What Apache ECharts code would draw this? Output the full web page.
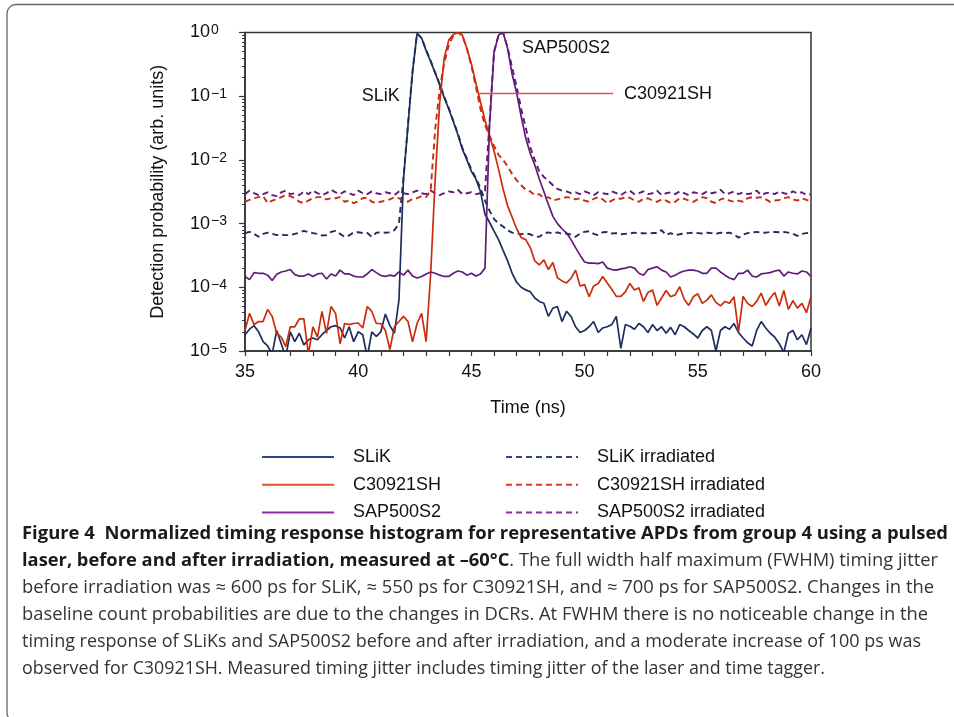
<!DOCTYPE html>
<html><head><meta charset="utf-8">
<style>html,body{margin:0;padding:0;background:#fff}#c{width:954px;height:717px}</style>
<script src="https://cdn.jsdelivr.net/npm/echarts@6/dist/echarts.min.js"></script>
</head><body><div id="c"></div>
<script>
// Time grid (ns)
const times = [
35,35.2,35.4,35.6,35.8,36,36.2,36.4,36.6,36.8,
37,37.2,37.4,37.6,37.8,38,38.2,38.4,38.6,38.8,
39,39.2,39.4,39.6,39.8,40,40.2,40.4,40.6,40.8,
41,41.2,41.4,41.6,41.8,42,42.2,42.4,42.6,42.8,
43,43.2,43.4,43.6,43.8,44,44.2,44.4,44.6,44.8,
45,45.2,45.4,45.6,45.8,46,46.2,46.4,46.6,46.8,
47,47.2,47.4,47.6,47.8,48,48.2,48.4,48.6,48.8,
49,49.2,49.4,49.6,49.8,50,50.2,50.4,50.6,50.8,
51,51.2,51.4,51.6,51.8,52,52.2,52.4,52.6,52.8,
53,53.2,53.4,53.6,53.8,54,54.2,54.4,54.6,54.8,
55,55.2,55.4,55.6,55.8,56,56.2,56.4,56.6,56.8,
57,57.2,57.4,57.6,57.8,58,58.2,58.4,58.6,58.8,
59,59.2,59.4,59.6,59.8,60];

const slik = [
1.8e-5,2.2e-5,2.5e-5,2.0e-5,1.4e-5,1.2e-5,0.9e-5,2.1e-5,1.3e-5,0.8e-5,
2.0e-5,1.4e-5,1.9e-5,1.25e-5,1.5e-5,1.6e-5,1.5e-5,1.8e-5,2.1e-5,2.4e-5,
2.5e-5,2.3e-5,1.6e-5,2.4e-5,1.4e-5,2.0e-5,1.8e-5,0.8e-5,2.0e-5,1.7e-5,
2.0e-5,3.8e-5,2.5e-5,1.9e-5,6.3e-5,5.0e-3,0.035,0.24,0.96,0.82,
0.52,0.35,0.23,0.15,0.095,0.063,0.040,0.025,0.0148,0.010,
0.0066,0.0050,0.0032,0.0014,0.00105,0.00076,0.00056,0.00038,0.00026,0.000166,
0.00012,1.0e-4,9.1e-5,8.5e-5,6.8e-5,6.0e-5,5.6e-5,3.5e-5,4.7e-5,5.0e-5,
2.9e-5,4.2e-5,3.5e-5,2.4e-5,1.95e-5,2.1e-5,2.4e-5,2.9e-5,1.95e-5,2.3e-5,
2.4e-5,2.6e-5,3.5e-5,1.1e-5,2.6e-5,2.45e-5,2.2e-5,2.7e-5,2.4e-5,1.95e-5,
2.6e-5,2.1e-5,2.4e-5,1.9e-5,2.35e-5,1.8e-5,2.6e-5,2.4e-5,2.1e-5,1.85e-5,
1.6e-5,2.1e-5,2.4e-5,2.1e-5,1.0e-5,2.1e-5,2.4e-5,2.2e-5,2.7e-5,1.95e-5,
1.6e-5,1.35e-5,1.2e-5,2.1e-5,2.9e-5,2.3e-5,1.9e-5,1.65e-5,1.3e-5,0.95e-5,
1.9e-5,2.1e-5,1.5e-5,1.8e-5,1.26e-5,2.3e-5];

const slikIrr = [
7.1e-4,7.4e-4,6.9e-4,6.2e-4,6.9e-4,7.2e-4,6.9e-4,6.6e-4,6.7e-4,6.6e-4,
6.6e-4,6.9e-4,7.2e-4,7.7e-4,7.3e-4,7.1e-4,6.9e-4,6.5e-4,6.6e-4,7.4e-4,
7.7e-4,6.9e-4,6.2e-4,6.5e-4,7.3e-4,7.3e-4,7.1e-4,7.1e-4,6.2e-4,7.2e-4,
7.3e-4,7.2e-4,7.3e-4,7.9e-4,1.0e-3,5.2e-3,0.036,0.25,0.96,0.82,
0.53,0.36,0.235,0.155,0.098,0.065,0.041,0.026,0.0155,0.0105,
0.0070,0.0052,0.0036,0.0023,0.0016,0.00118,0.0010,0.0009,0.00078,0.00072,
7.0e-4,6.8e-4,7.0e-4,6.8e-4,6.3e-4,6.2e-4,7.0e-4,7.3e-4,7.0e-4,7.3e-4,
6.9e-4,7.0e-4,6.7e-4,6.2e-4,7.0e-4,7.4e-4,7.6e-4,6.9e-4,6.6e-4,7.3e-4,
7.4e-4,7.0e-4,7.1e-4,6.8e-4,6.9e-4,7.0e-4,7.2e-4,7.0e-4,7.1e-4,7.0e-4,
7.1e-4,7.1e-4,7.9e-4,6.6e-4,7.1e-4,6.6e-4,6.8e-4,7.0e-4,7.1e-4,7.2e-4,
7.1e-4,7.0e-4,7.2e-4,7.1e-4,6.9e-4,7.2e-4,7.1e-4,7.2e-4,6.8e-4,6.0e-4,
6.7e-4,7.1e-4,7.3e-4,7.4e-4,7.2e-4,7.2e-4,7.4e-4,7.4e-4,7.3e-4,7.4e-4,
7.2e-4,6.9e-4,6.4e-4,6.9e-4,7.1e-4,7.2e-4];

const c309 = [
2.1e-5,3.9e-5,2.6e-5,2.9e-5,2.9e-5,4.5e-5,3.5e-5,1.9e-5,1.65e-5,1.17e-5,
2.4e-5,2.4e-5,3.2e-5,3.2e-5,0.89e-5,2.4e-5,1.65e-5,4.2e-5,1.9e-5,5.0e-5,
3.9e-5,1.3e-5,2.7e-5,2.6e-5,2.7e-5,2.75e-5,2.3e-5,5.0e-5,4.2e-5,2.7e-5,
2.7e-5,2.1e-5,1.05e-5,2.4e-5,2.9e-5,3.5e-5,2.9e-5,1.4e-5,2.7e-5,3.9e-5,
1.4e-5,1.6e-4,5.0e-3,0.079,0.40,0.76,0.93,1.0,0.91,0.56,
0.32,0.16,0.081,0.042,0.024,0.0138,0.0071,0.0035,0.0019,0.00126,
0.00083,0.0006,0.00056,0.00042,0.00026,0.000224,0.00027,0.00019,0.000245,0.000141,
1.26e-4,1.17e-4,1.38e-4,1.86e-4,1.05e-4,1.1e-4,7.1e-5,1.05e-4,1.15e-4,1.48e-4,
1.17e-4,9.3e-5,7.2e-5,7.2e-5,8.5e-5,1.15e-4,9.1e-5,9.8e-5,6.0e-5,8.3e-5,
9.1e-5,5.2e-5,6.8e-5,8.9e-5,7.1e-5,7.6e-5,1.02e-4,6.5e-5,5.2e-5,7.1e-5,
7.9e-5,5.6e-5,6.3e-5,7.6e-5,5.8e-5,5.1e-5,6.0e-5,5.6e-5,7.1e-5,2.0e-5,
7.2e-5,5.6e-5,5.0e-5,6.0e-5,8.1e-5,5.2e-5,6.8e-5,8.3e-5,5.1e-5,8.9e-5,
4.5e-5,6.2e-5,4.7e-5,5.6e-5,4.0e-5,7.1e-5];

const c309Irr = [
2.2e-3,2.35e-3,2.5e-3,2.6e-3,2.7e-3,2.1e-3,2.3e-3,2.4e-3,2.6e-3,2.8e-3,
2.7e-3,2.5e-3,2.2e-3,2.1e-3,2.3e-3,2.5e-3,2.6e-3,2.6e-3,2.4e-3,2.5e-3,
2.5e-3,2.6e-3,2.2e-3,2.3e-3,2.1e-3,2.25e-3,2.5e-3,2.55e-3,2.2e-3,2.1e-3,
2.2e-3,2.3e-3,2.4e-3,2.6e-3,2.5e-3,2.3e-3,2.2e-3,2.45e-3,2.5e-3,2.7e-3,
2.6e-3,3.3e-3,0.03,0.13,0.33,0.63,0.89,1.0,0.9,0.56,
0.30,0.14,0.063,0.035,0.024,0.0166,0.012,0.010,0.0079,0.006,
0.0048,0.004,0.0034,0.0032,0.0028,0.0029,0.0025,0.0026,0.0023,0.0024,
2.5e-3,2.6e-3,2.55e-3,2.4e-3,2.5e-3,2.3e-3,2.2e-3,2.45e-3,2.6e-3,2.4e-3,
2.1e-3,2.3e-3,2.5e-3,2.45e-3,2.6e-3,2.55e-3,2.3e-3,2.2e-3,2.45e-3,2.5e-3,
2.3e-3,2.2e-3,2.4e-3,2.3e-3,2.1e-3,2.2e-3,2.5e-3,2.45e-3,2.3e-3,2.2e-3,
2.4e-3,2.6e-3,2.5e-3,2.2e-3,2.1e-3,2.4e-3,2.5e-3,2.3e-3,2.2e-3,2.3e-3,
2.2e-3,2.5e-3,2.6e-3,2.55e-3,2.6e-3,2.4e-3,2.2e-3,2.3e-3,2.35e-3,2.5e-3,
2.6e-3,2.4e-3,2.3e-3,2.5e-3,2.35e-3,2.2e-3];

const sap = [
1.48e-4,1.32e-4,1.7e-4,1.66e-4,1.66e-4,1.55e-4,1.28e-4,1.6e-4,1.74e-4,1.8e-4,
1.9e-4,1.58e-4,1.5e-4,1.5e-4,1.62e-4,1.48e-4,1.62e-4,1.66e-4,1.35e-4,1.62e-4,
1.5e-4,1.86e-4,1.62e-4,1.62e-4,1.5e-4,1.45e-4,1.45e-4,1.62e-4,1.9e-4,1.7e-4,
1.53e-4,1.48e-4,1.55e-4,1.5e-4,1.74e-4,1.55e-4,1.86e-4,1.5e-4,1.4e-4,1.48e-4,
1.62e-4,1.74e-4,1.66e-4,1.55e-4,1.48e-4,1.48e-4,1.66e-4,1.8e-4,1.74e-4,1.55e-4,
1.66e-4,1.5e-4,1.62e-4,2.0e-4,0.035,0.49,0.91,1.0,0.56,0.22,
0.112,0.048,0.022,0.0126,0.0083,0.005,0.0032,0.002,0.0013,0.001,
0.00083,0.00071,0.00056,0.00042,0.00032,0.00025,0.00024,2.4e-4,2.35e-4,2.5e-4,
2.0e-4,1.9e-4,1.86e-4,1.95e-4,2.0e-4,2.1e-4,2.0e-4,1.66e-4,1.55e-4,1.9e-4,
2.0e-4,2.1e-4,1.86e-4,1.74e-4,1.45e-4,1.55e-4,1.7e-4,1.8e-4,1.86e-4,1.86e-4,
1.8e-4,1.66e-4,1.66e-4,2.0e-4,2.0e-4,1.74e-4,1.55e-4,1.4e-4,1.32e-4,1.66e-4,
1.66e-4,1.86e-4,1.5e-4,1.45e-4,1.62e-4,1.66e-4,1.7e-4,1.8e-4,1.86e-4,1.5e-4,
1.74e-4,1.66e-4,1.62e-4,1.8e-4,1.74e-4,1.48e-4];

const sapIrr = [
2.9e-3,3.3e-3,3.0e-3,2.8e-3,2.9e-3,3.1e-3,2.8e-3,2.7e-3,3.1e-3,3.3e-3,
2.9e-3,3.0e-3,2.8e-3,3.2e-3,2.9e-3,3.3e-3,3.0e-3,2.8e-3,3.0e-3,3.4e-3,
3.1e-3,2.9e-3,3.2e-3,3.0e-3,2.8e-3,3.3e-3,3.0e-3,2.9e-3,3.2e-3,3.0e-3,
2.9e-3,3.1e-3,3.0e-3,2.8e-3,3.2e-3,3.0e-3,2.9e-3,3.1e-3,3.3e-3,3.0e-3,
2.9e-3,3.3e-3,3.0e-3,2.8e-3,3.0e-3,3.2e-3,3.1e-3,3.4e-3,2.9e-3,3.0e-3,
3.1e-3,2.9e-3,3.0e-3,3.3e-3,0.038,0.50,0.91,1.0,0.58,0.28,
0.14,0.063,0.032,0.0158,0.010,0.0066,0.0054,0.0047,0.0040,0.0035,
3.3e-3,3.2e-3,3.0e-3,3.1e-3,2.9e-3,3.2e-3,3.0e-3,2.8e-3,3.1e-3,3.0e-3,
2.9e-3,3.2e-3,3.0e-3,2.8e-3,3.1e-3,3.3e-3,2.9e-3,3.0e-3,3.2e-3,2.9e-3,
3.0e-3,3.3e-3,2.8e-3,3.0e-3,3.1e-3,2.9e-3,3.2e-3,3.0e-3,2.8e-3,3.1e-3,
3.0e-3,2.9e-3,3.2e-3,3.0e-3,3.1e-3,3.4e-3,2.9e-3,3.0e-3,3.2e-3,2.9e-3,
3.1e-3,2.9e-3,3.0e-3,3.3e-3,2.8e-3,3.0e-3,3.1e-3,2.9e-3,3.2e-3,3.0e-3,
2.9e-3,3.2e-3,3.0e-3,3.1e-3,2.8e-3,2.9e-3];

const xTicks = [35, 40, 45, 50, 55, 60];
const solidNames = ['SLiK', 'C30921SH', 'SAP500S2'];
const irrNames = ['SLiK irradiated', 'C30921SH irradiated', 'SAP500S2 irradiated'];

const captionLines = [
  [{b: 'Figure 4  Normalized timing response histogram for representative APDs from group 4 using a pulsed'}],
  [{b: 'laser, before and after irradiation, measured at \u201360\u00b0C'}, {r: '. The full width half maximum (FWHM) timing jitter'}],
  [{r: 'before irradiation was \u2248 600 ps for SLiK, \u2248 550 ps for C30921SH, and \u2248 700 ps for SAP500S2. Changes in the'}],
  [{r: 'baseline count probabilities are due to the changes in DCRs. At FWHM there is no noticeable change in the'}],
  [{r: 'timing response of SLiKs and SAP500S2 before and after irradiation, and a moderate increase of 100 ps was'}],
  [{r: 'observed for C30921SH. Measured timing jitter includes timing jitter of the laser and time tagger.'}]
];

// ---------------- layout / styling ----------------
const FONT = '"Liberation Sans", Arial, sans-serif';
const CAP = '"Open Sans", "Noto Sans", sans-serif';
const COL = {slik: '#1e2d5c', c309: '#cc2b0c', sap: '#621a78'};
const LEG = {slik: '#2d4488', c309: '#e0552d', sap: '#8e2ea6'};
const DASH = [6, 4];

function mk(vals) { return times.map((t, i) => [t, vals[i]]); }

const chart = echarts.init(document.getElementById('c'), null, {renderer: 'canvas'});

function solid(name, vals, c) {
  return {name, type: 'line', data: mk(vals), symbol: 'none', showSymbol: false,
    lineStyle: {color: c, width: 1.7}, itemStyle: {color: c}, z: 3, clip: true};
}
function dashed(name, vals, c) {
  return {name, type: 'line', data: mk(vals), symbol: 'none', showSymbol: false,
    lineStyle: {color: c, width: 1.9, type: DASH}, itemStyle: {color: c}, z: 2, clip: true};
}

const legendCommon = {
  orient: 'vertical', top: 443, itemWidth: 72, itemHeight: 14, itemGap: 9.7,
  selectedMode: false,
  itemStyle: {opacity: 0},
  textStyle: {fontSize: 18, fontFamily: FONT, color: '#111', lineHeight: 18, padding: [0, 0, 0, 14]}
};

chart.setOption({
  animation: false,
  textStyle: {fontFamily: FONT},
  grid: {left: 245, right: 143, top: 32.5, bottom: 366, show: true, borderColor: '#333', borderWidth: 1.5, containLabel: false},
  xAxis: {
    type: 'value', min: 35, max: 60, interval: 5,
    axisLine: {lineStyle: {color: '#333', width: 1.5}},
    axisTick: {length: 5, lineStyle: {color: '#333', width: 1.2}},
    minorTick: {show: true, splitNumber: 5, length: 5, lineStyle: {color: '#333', width: 1.2}},
    splitLine: {show: false},
    axisLabel: {fontSize: 18, color: '#111', fontFamily: FONT, margin: 12,
      formatter: v => xTicks.indexOf(v) >= 0 ? String(v) : ''},
    name: 'Time (ns)', nameLocation: 'middle', nameGap: 48,
    nameTextStyle: {fontSize: 18, color: '#111', fontFamily: FONT}
  },
  yAxis: {
    type: 'log', logBase: 10, min: 1e-5, max: 1,
    axisLine: {show: true, lineStyle: {color: '#333', width: 1.5}},
    axisTick: {show: true, length: 6, lineStyle: {color: '#333', width: 1.2}},
    minorTick: {show: true, splitNumber: 9, length: 3, lineStyle: {color: '#333', width: 1}},
    splitLine: {show: false},
    axisLabel: {
      align: 'left', margin: 55,
      formatter: v => {
        const e = Math.round(Math.log10(v));
        return '{b|10}{s|' + (e < 0 ? '\u2212' + (-e) : String(e)) + '}';
      },
      rich: {
        b: {fontSize: 18, fontFamily: FONT, color: '#111', lineHeight: 18, verticalAlign: 'bottom'},
        s: {fontSize: 14, fontFamily: FONT, color: '#111', lineHeight: 14, verticalAlign: 'top', padding: [0, 0, 10, 1]}
      }
    },
    name: 'Detection probability (arb. units)', nameLocation: 'middle', nameGap: 78,
    nameTextStyle: {fontSize: 18, color: '#111', fontFamily: FONT}
  },
  legend: [
    Object.assign({}, legendCommon, {left: 256, data: [
      {name: solidNames[0], lineStyle: {color: LEG.slik}},
      {name: solidNames[1], lineStyle: {color: LEG.c309}},
      {name: solidNames[2], lineStyle: {color: LEG.sap}}]}),
    Object.assign({}, legendCommon, {left: 500, data: [
      {name: irrNames[0], lineStyle: {color: LEG.slik}},
      {name: irrNames[1], lineStyle: {color: '#e03a22'}},
      {name: irrNames[2], lineStyle: {color: LEG.sap}}]})
  ],
  series: [
    dashed(irrNames[0], slikIrr, COL.slik),
    dashed(irrNames[1], c309Irr, COL.c309),
    dashed(irrNames[2], sapIrr, COL.sap),
    solid(solidNames[0], slik, COL.slik),
    solid(solidNames[1], c309, COL.c309),
    solid(solidNames[2], sap, COL.sap)
  ]
});

// ---- annotations placed through the chart's own coordinate system ----
function px(t, v) { return chart.convertToPixel({gridIndex: 0}, [t, v]); }
const pSlik = px(41.0, 0.1);
const pSap = px(49.18, 0.57);
const pC = px(53.68, 0.11);
const pL1 = px(45.34, 0.11), pL2 = px(51.26, 0.11);

// caption: measure and fit each line horizontally
const ctx = document.createElement('canvas').getContext('2d');
const CAP_SIZE = 17.5;
function tw(txt, bold) { ctx.font = (bold ? 'bold ' : '') + CAP_SIZE + 'px ' + CAP; return ctx.measureText(txt).width; }
const capY = [534, 561, 588, 615, 642, 669];
const capRight = [948, 938, 934, 928, 921, 825];
const capLeft = 22;
const capEls = captionLines.map((parts, i) => {
  let w = 0, text = '';
  parts.forEach(p => {
    if (p.b) { w += tw(p.b, true); text += '{b|' + p.b + '}'; }
    else { w += tw(p.r, false); text += '{r|' + p.r + '}'; }
  });
  const s = (capRight[i] - capLeft) / w;
  return {type: 'text', x: capLeft, y: capY[i], scaleX: s, scaleY: 1, z: 10,
    style: {text, verticalAlign: 'middle', align: 'left',
      rich: {
        b: {fontSize: CAP_SIZE, fontFamily: CAP, fontWeight: 'bold', fill: '#1a1a1a'},
        r: {fontSize: CAP_SIZE, fontFamily: CAP, fontWeight: 'normal', fill: '#333'}
      }}};
});

chart.setOption({
  graphic: [
    {type: 'rect', shape: {x: 7, y: 4.5, width: 1000, height: 717, r: 9}, z: 0,
      style: {fill: 'none', stroke: '#666', lineWidth: 1.3}},
    {type: 'line', shape: {x1: pL1[0], y1: pL1[1], x2: pL2[0], y2: pL2[1]}, z: 10,
      style: {stroke: '#d45a5a', lineWidth: 1.4}},
    {type: 'text', x: pSlik[0], y: pSlik[1], z: 10,
      style: {text: 'SLiK', fontSize: 18, fontFamily: FONT, fill: '#111', align: 'center', verticalAlign: 'middle'}},
    {type: 'text', x: pSap[0], y: pSap[1], z: 10,
      style: {text: 'SAP500S2', fontSize: 18, fontFamily: FONT, fill: '#111', align: 'center', verticalAlign: 'middle'}},
    {type: 'text', x: pC[0], y: pC[1], z: 10,
      style: {text: 'C30921SH', fontSize: 18, fontFamily: FONT, fill: '#111', align: 'center', verticalAlign: 'middle'}}
  ].concat(capEls)
});
</script>
</body></html>
